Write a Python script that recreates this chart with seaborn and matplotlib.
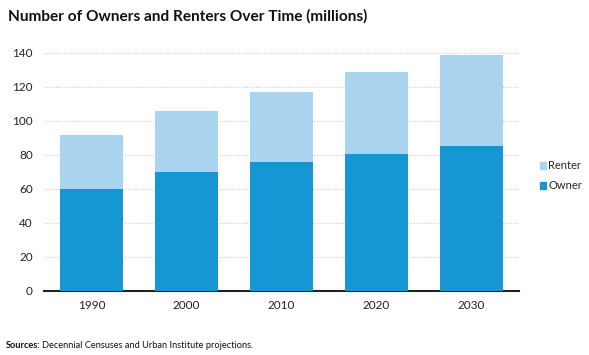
import pandas as pd
import matplotlib.pyplot as plt
import seaborn as sns
from matplotlib.patches import Patch

# data (millions)
years = ['1990', '2000', '2010', '2020', '2030']
owners = [59.7, 69.6, 75.9, 80.2, 84.9]
renters = [31.9, 35.9, 40.8, 48.2, 53.9]

owner_color = '#1696d2'
renter_color = '#a9d3ef'

df = pd.DataFrame({'year': years, 'owner': owners, 'renter': renters})
df['total'] = df['owner'] + df['renter']

sns.set_style('white')
plt.rcParams['font.family'] = ['Lato', 'DejaVu Sans']

fig = plt.figure(figsize=(5.89, 3.55), dpi=100)
ax = fig.add_axes([0.0747, 0.181, 0.8065, 0.6705])

# stacked bars: total in renter colour, owner drawn on top
sns.barplot(data=df, x='year', y='total', color=renter_color, width=0.66,
            saturation=1, linewidth=0, ax=ax, zorder=2)
sns.barplot(data=df, x='year', y='owner', color=owner_color, width=0.66,
            saturation=1, linewidth=0, ax=ax, zorder=3)

ax.set_ylim(0, 140)
ax.set_xlim(-0.5, 4.5)
ax.set_yticks(range(0, 141, 20))
ax.yaxis.grid(True, linestyle=(0, (1, 1.5)), color='#cccccc', linewidth=0.8, zorder=0)
ax.set_axisbelow(True)

# tick marks at the category boundaries, labels at the centres
ax.set_xticks([i - 0.5 for i in range(6)])
ax.set_xticklabels([])
ax.set_xticks(range(5), minor=True)
ax.set_xticklabels(years, minor=True, fontsize=8.5, color='#222222')
ax.tick_params(axis='x', which='major', length=4, width=1, color='#222222', direction='out')
ax.tick_params(axis='x', which='minor', length=0, pad=7)
ax.tick_params(axis='y', length=0, labelsize=8.5, labelcolor='#222222', pad=8)

for s in ['left', 'right', 'top']:
    ax.spines[s].set_visible(False)
ax.spines['bottom'].set_color('#222222')
ax.spines['bottom'].set_linewidth(1.5)
ax.set_xlabel('')
ax.set_ylabel('')

handles = [Patch(color=renter_color, label='Renter'),
           Patch(color=owner_color, label='Owner')]
fig.legend(handles=handles, loc='center left', bbox_to_anchor=(0.916, 0.505),
           frameon=False, fontsize=8, handlelength=0.6, handleheight=0.6,
           handletextpad=0.2, labelspacing=0.8, borderpad=0, borderaxespad=0)

fig.text(0.013, 0.955, 'Number of Owners and Renters Over Time (millions)',
         fontsize=11.1, fontweight='bold', color='#111111', va='center')

# source line: bold label followed by regular text
renderer = fig.canvas.get_renderer()
lab = fig.text(0.01, 0.026, 'Sources:', fontsize=6.7, fontweight='bold',
               color='#111111', va='center')
bb = lab.get_window_extent(renderer).transformed(fig.transFigure.inverted())
fig.text(bb.x1 + 0.003, 0.026, 'Decennial Censuses and Urban Institute projections.',
         fontsize=6.7, color='#111111', va='center')

plt.savefig('out.png', dpi=100)
